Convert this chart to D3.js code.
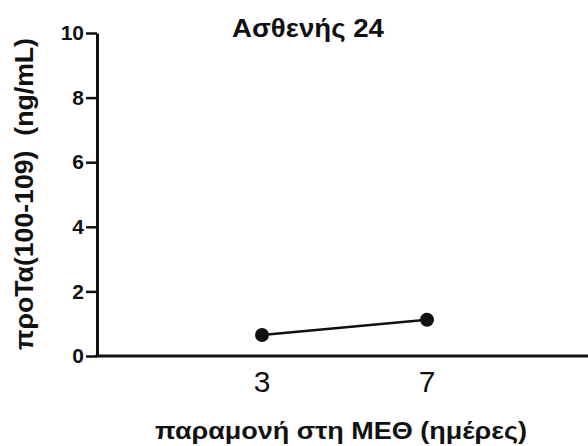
<!DOCTYPE html>
<html>
<head>
<meta charset="utf-8">
<script src="https://cdn.jsdelivr.net/npm/d3@7"></script>
<style>
  html, body { margin: 0; padding: 0; background: #fff; }
  text { font-family: "Liberation Sans", Arial, sans-serif; fill: #111; }
</style>
</head>
<body>
<svg id="chart" width="588" height="446"></svg>
<script>
// Days in ICU and measured concentration
const days = ["3", "7"];
const values = [0.65, 1.12];
const yTicks = [0, 2, 4, 6, 8, 10];
const chartTitle = "Ασθενής 24";
const xTitle = "παραμονή στη ΜΕΘ (ημέρες)";
const yTitle = "προΤα(100-109)\u00a0\u00a0(ng/mL)";

const svg = d3.select("#chart");
const plotLeft = 97, plotRight = 592, plotTop = 33, plotBottom = 356;

const x = d3.scalePoint().domain(days).range([plotLeft, plotRight]).padding(1);
const y = d3.scaleLinear().domain([0, 10]).range([plotBottom, plotTop]);

// Y axis
const yAxis = svg.append("g")
  .attr("transform", `translate(${plotLeft},0)`)
  .call(d3.axisLeft(y).tickValues(yTicks).tickSize(11).tickSizeOuter(0).tickPadding(2));
yAxis.select(".domain").attr("stroke", "#111").attr("stroke-width", 3);
yAxis.selectAll(".tick line").attr("stroke", "#111").attr("stroke-width", 2.5);
yAxis.selectAll(".tick text")
  .style("font-size", "21px").style("font-weight", "bold")
  .attr("fill", "#111");

// X axis
svg.append("line")
  .attr("x1", plotLeft - 1.5).attr("x2", 588)
  .attr("y1", plotBottom).attr("y2", plotBottom)
  .attr("stroke", "#111").attr("stroke-width", 3);
svg.append("g").selectAll("text").data(days).join("text")
  .attr("x", d => x(d)).attr("y", 392)
  .attr("text-anchor", "middle")
  .style("font-size", "30px")
  .text(d => d);

// Data line and markers
const pts = days.map((d, i) => [x(d), y(values[i])]);
svg.append("path")
  .attr("d", d3.line()(pts))
  .attr("fill", "none").attr("stroke", "#111").attr("stroke-width", 2.5);
svg.append("g").selectAll("circle").data(pts).join("circle")
  .attr("cx", d => d[0]).attr("cy", d => d[1]).attr("r", 7)
  .attr("fill", "#111");

// Titles
svg.append("text")
  .attr("x", 308).attr("y", 37)
  .attr("text-anchor", "middle")
  .attr("textLength", 152).attr("lengthAdjust", "spacingAndGlyphs")
  .style("font-size", "25px").style("font-weight", "bold")
  .text(chartTitle);

svg.append("text")
  .attr("x", 341).attr("y", 439)
  .attr("text-anchor", "middle")
  .attr("textLength", 372).attr("lengthAdjust", "spacingAndGlyphs")
  .style("font-size", "23px").style("font-weight", "bold")
  .text(xTitle);

svg.append("text")
  .attr("transform", `translate(33,194) rotate(-90)`)
  .attr("text-anchor", "middle")
  .attr("textLength", 312).attr("lengthAdjust", "spacingAndGlyphs")
  .style("font-size", "25px").style("font-weight", "bold")
  .text(yTitle);
</script>
</body>
</html>
